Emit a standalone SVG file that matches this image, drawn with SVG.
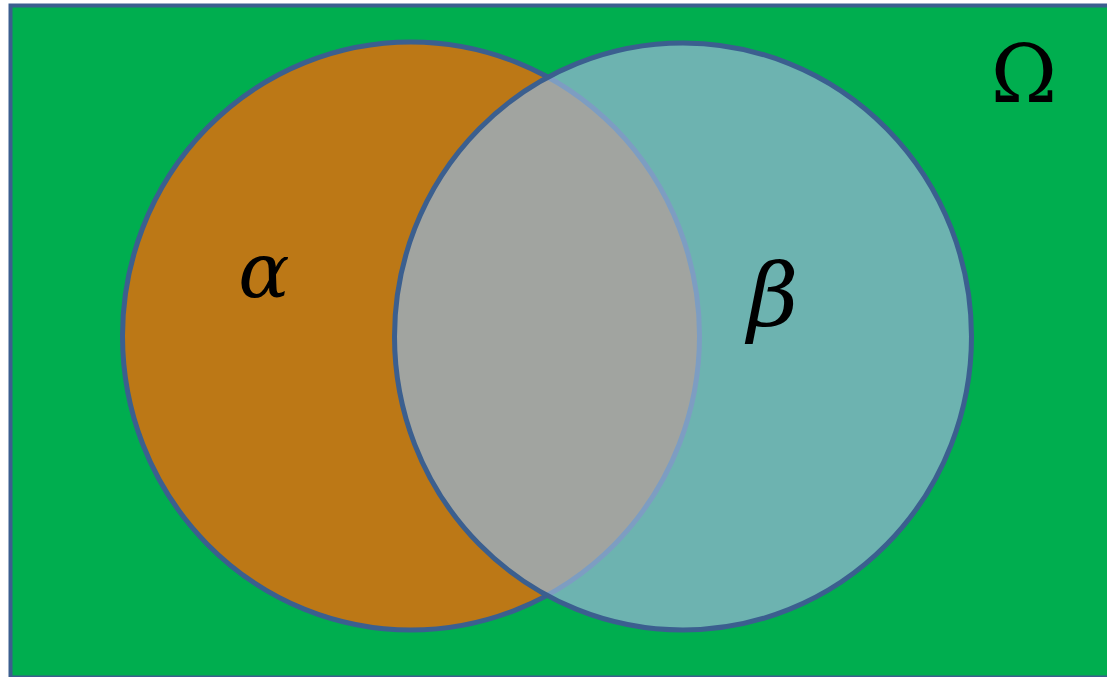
<svg xmlns="http://www.w3.org/2000/svg" width="1107" height="677" viewBox="0 0 1107 677">
<style>
.edge{stroke:#3B5F8F;stroke-width:5}
.lbl{font-family:"DejaVu Serif","Liberation Serif",serif;fill:#000;text-anchor:middle}
.it{font-style:italic}
</style>
<rect width="1107" height="677" fill="#FFFFFF"/>
<g id="omega">
<rect x="10.5" y="5.5" width="1110" height="672" fill="#00AE4F" stroke="#3B5F8F" stroke-width="4"/>
<text class="lbl" x="1024" y="102" font-size="80">Ω</text>
</g>
<g id="alpha">
<ellipse cx="411" cy="336" rx="288.5" ry="294" fill="#BC7816" class="edge"/>
<text class="lbl it" x="264" y="297" font-size="76">α</text>
</g>
<g id="beta">
<ellipse cx="683" cy="336.5" rx="288.5" ry="293.5" fill="#97B5D6" fill-opacity="0.72" class="edge"/>
<text class="lbl it" x="773" y="326" font-size="88">β</text>
</g>
<g id="connectors"></g>
</svg>
